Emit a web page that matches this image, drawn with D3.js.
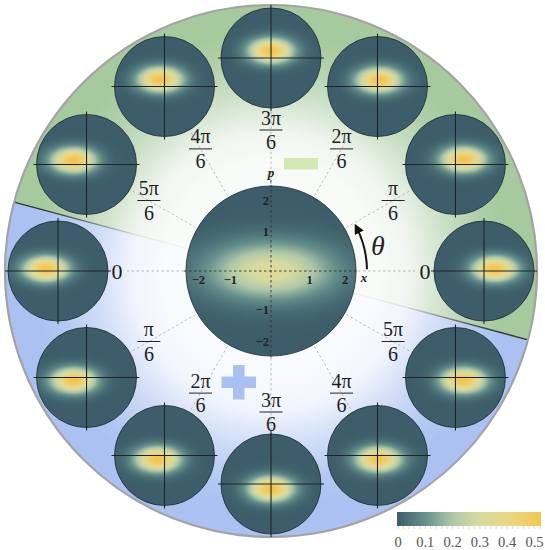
<!DOCTYPE html>
<html>
<head>
<meta charset="utf-8">
<script src="https://cdn.jsdelivr.net/npm/d3@7"></script>
<style>
  html, body { margin: 0; padding: 0; background: #fff; }
  svg { display: block; }
</style>
</head>
<body>
<svg id="chart" width="545" height="550"></svg>
<script>
// Rotation angle of each outer Wigner panel (degrees, counter-clockwise from +x)
const panelAngles = [0, 30, 60, 90, 120, 150, 180, 210, 240, 270, 300, 330];
// Phase labels next to each panel (numerator / denominator)
const labelNumerators = ["0", "π", "2π", "3π", "4π", "5π", "0", "π", "2π", "3π", "4π", "5π"];
const labelDenominators = ["", "6", "6", "6", "6", "6", "", "6", "6", "6", "6", "6"];
// Conditional state of each outer panel: centre (x, p), widths and peak value
const blobX = [0.48, 0.35, 0.06, 0.0, -0.18, -0.57, -0.53, -0.57, -0.30, 0.0, 0.04, 0.35];
const blobP = [0.09, 0.22, 0.28, 0.31, 0.31, 0.18, 0.09, -0.13, -0.17, -0.22, -0.17, -0.13];
const blobSigmaX = [0.66, 0.66, 0.66, 0.66, 0.66, 0.66, 0.66, 0.66, 0.66, 0.66, 0.66, 0.66];
const blobSigmaP = [0.37, 0.37, 0.37, 0.37, 0.37, 0.37, 0.37, 0.37, 0.37, 0.37, 0.37, 0.37];
const blobPeak = [0.54, 0.54, 0.54, 0.54, 0.54, 0.54, 0.54, 0.54, 0.54, 0.54, 0.54, 0.54];
// Unconditioned (central) state
const centerState = { x: 0, p: 0, sigmaX: 1.1, sigmaP: 0.5, peak: 0.33 };
// Axis ticks of the central panel
const axisTicks = [-2, -1, 1, 2];
// Colour map
const colorStops = [0, 0.1, 0.2, 0.3, 0.4, 0.5, 0.53];
const colorValues = ["#3c5d69", "#648e8c", "#adc7a7", "#d8daa0", "#e9d787", "#f2cb5c", "#f4c54c"];
const colorbarTicks = [0, 0.1, 0.2, 0.3, 0.4, 0.5];

const SERIF = "'Liberation Serif', 'Times New Roman', serif";
const CX = 271, CY = 271;
const OUTER_R = 266, RING_R = 213, DISK_R = 50, CENTER_R = 85;
const LABEL_R = 141, ZERO_R = 154;
const PHASE_MAX = 2.2;

const color = d3.scaleLinear().domain(colorStops).range(colorValues).clamp(true);
const svg = d3.select("#chart").attr("font-family", SERIF);
const defs = svg.append("defs");
const rad = d => d * Math.PI / 180;
const polar = (r, deg) => [CX + r * Math.cos(rad(deg)), CY - r * Math.sin(rad(deg))];

// ---------- background: two half-planes split along -15° / 165° ----------
const arc = d3.arc().innerRadius(0).outerRadius(OUTER_R);
const split = 165; // math angle of the divider
const toD3 = deg => rad(90 - deg);
const bg = svg.append("g").attr("transform", `translate(${CX},${CY})`);
bg.append("path")
  .attr("d", arc({ startAngle: toD3(split), endAngle: toD3(split - 180) }))
  .attr("fill", "#a6c99e");
bg.append("path")
  .attr("d", arc({ startAngle: toD3(split - 180), endAngle: toD3(split - 180) + Math.PI }))
  .attr("fill", "#aac1f1");
const [lx1, ly1] = polar(OUTER_R, split);
const [lx2, ly2] = polar(OUTER_R, split - 180);
svg.append("line").attr("x1", lx1).attr("y1", ly1).attr("x2", lx2).attr("y2", ly2)
  .attr("stroke", "#2e3436").attr("stroke-width", 1.4);

// white glow fading outwards
const glow = defs.append("radialGradient").attr("id", "glow")
  .attr("gradientUnits", "userSpaceOnUse")
  .attr("cx", CX).attr("cy", CY).attr("r", OUTER_R);
[[0, 0.93], [0.40, 0.93], [0.52, 0.84], [0.66, 0.45], [0.80, 0.12], [0.9, 0]].forEach(([o, a]) =>
  glow.append("stop").attr("offset", o).attr("stop-color", "#fff").attr("stop-opacity", a));
svg.append("circle").attr("cx", CX).attr("cy", CY).attr("r", OUTER_R).attr("fill", "url(#glow)");
svg.append("circle").attr("cx", CX).attr("cy", CY).attr("r", OUTER_R)
  .attr("fill", "none").attr("stroke", "#a3a3a3").attr("stroke-width", 2.2);

// ---------- radial guide lines ----------
svg.append("g").selectAll("line").data(panelAngles).join("line")
  .attr("x1", d => polar(CENTER_R + 2, d)[0]).attr("y1", d => polar(CENTER_R + 2, d)[1])
  .attr("x2", (d, i) => polar(labelDenominators[i] ? RING_R - DISK_R : ZERO_R - 10, d)[0])
  .attr("y2", (d, i) => polar(labelDenominators[i] ? RING_R - DISK_R : ZERO_R - 10, d)[1])
  .attr("stroke", "#aaa").attr("stroke-width", 0.8).attr("stroke-dasharray", "2.5,2.5");

// ---------- phase labels ----------
const labels = svg.append("g").attr("fill", "#1e1e1e");
panelAngles.forEach((a, i) => {
  if (!labelDenominators[i]) {
    const [x, y] = polar(ZERO_R, a);
    labels.append("text").attr("x", x).attr("y", y + 7.5).attr("text-anchor", "middle")
      .attr("font-size", 22).text(labelNumerators[i]);
  } else {
    const [x, y] = polar(LABEL_R, a);
    labels.append("text").attr("x", x).attr("y", y - 5.5).attr("text-anchor", "middle")
      .attr("font-size", 20).text(labelNumerators[i]);
    labels.append("line").attr("x1", x - 11.5).attr("x2", x + 11.5).attr("y1", y).attr("y2", y)
      .attr("stroke", "#222").attr("stroke-width", 1);
    labels.append("text").attr("x", x).attr("y", y + 19).attr("text-anchor", "middle")
      .attr("font-size", 20).text(labelDenominators[i]);
  }
});

// ---------- sign markers ----------
svg.append("rect").attr("x", 284).attr("y", 158).attr("width", 34).attr("height", 11.5)
  .attr("fill", "#d3e8b3");
const plus = svg.append("g").attr("fill", "#a9c0f0");
plus.append("rect").attr("x", 221.5).attr("y", 376.5).attr("width", 34.5).attr("height", 11.5);
plus.append("rect").attr("x", 233).attr("y", 365).attr("width", 11.5).attr("height", 34.5);

// ---------- Wigner function rendering ----------
function gaussian(st) {
  return (x, p) => st.peak * Math.exp(-0.5 * ((x - st.x) / st.sigmaX) ** 2 - 0.5 * ((p - st.p) / st.sigmaP) ** 2);
}
function fieldImage(radius, W) {
  const size = Math.round(radius * 2);
  const xs = d3.scaleLinear().domain([-PHASE_MAX, PHASE_MAX]).range([0, size]);
  const ps = d3.scaleLinear().domain([PHASE_MAX, -PHASE_MAX]).range([0, size]);
  const canvas = document.createElement("canvas");
  canvas.width = canvas.height = size;
  const ctx = canvas.getContext("2d");
  const img = ctx.createImageData(size, size);
  for (let j = 0; j < size; j++) {
    const p = ps.invert(j + 0.5);
    for (let i = 0; i < size; i++) {
      const x = xs.invert(i + 0.5);
      const c = d3.rgb(color(W(x, p)));
      const k = 4 * (j * size + i);
      img.data[k] = c.r; img.data[k + 1] = c.g; img.data[k + 2] = c.b; img.data[k + 3] = 255;
    }
  }
  ctx.putImageData(img, 0, 0);
  return canvas.toDataURL();
}
function drawPanel(g, id, cx, cy, r, W) {
  defs.append("clipPath").attr("id", id).append("circle").attr("cx", cx).attr("cy", cy).attr("r", r);
  g.append("image").attr("href", fieldImage(r, W))
    .attr("x", cx - r).attr("y", cy - r).attr("width", 2 * r).attr("height", 2 * r)
    .attr("clip-path", `url(#${id})`).attr("preserveAspectRatio", "none");
  g.append("circle").attr("cx", cx).attr("cy", cy).attr("r", r)
    .attr("fill", "none").attr("stroke", "#24343a").attr("stroke-width", 0.9);
}

// outer panels
const panels = svg.append("g");
panelAngles.forEach((a, i) => {
  const [cx, cy] = polar(RING_R, a);
  const g = panels.append("g");
  drawPanel(g, "clip" + i, cx, cy, DISK_R, gaussian({
    x: blobX[i], p: blobP[i], sigmaX: blobSigmaX[i], sigmaP: blobSigmaP[i], peak: blobPeak[i]
  }));
  g.append("line").attr("x1", cx - DISK_R - 3).attr("x2", cx + DISK_R + 3).attr("y1", cy).attr("y2", cy)
    .attr("stroke", "#1b2529").attr("stroke-width", 1.1);
  g.append("line").attr("x1", cx).attr("x2", cx).attr("y1", cy - DISK_R - 3).attr("y2", cy + DISK_R + 3)
    .attr("stroke", "#1b2529").attr("stroke-width", 1.1);
});

// central panel with phase-space axes
const center = svg.append("g");
drawPanel(center, "clipCenter", CX, CY, CENTER_R, gaussian(centerState));
const unit = d3.scaleLinear().domain([-PHASE_MAX, PHASE_MAX]).range([-CENTER_R, CENTER_R]);
center.append("line").attr("x1", CX - CENTER_R - 2).attr("x2", CX + CENTER_R + 2).attr("y1", CY).attr("y2", CY)
  .attr("stroke", "#333").attr("stroke-width", 0.9).attr("stroke-dasharray", "2.5,2.5");
center.append("line").attr("x1", CX).attr("x2", CX).attr("y1", CY - CENTER_R - 6).attr("y2", CY + CENTER_R + 3)
  .attr("stroke", "#333").attr("stroke-width", 0.9).attr("stroke-dasharray", "2.5,2.5");
center.append("g").selectAll("text").data(axisTicks).join("text")
  .attr("x", d => CX + unit(d) - (d < 0 ? 2 : 0)).attr("y", CY + 13)
  .attr("text-anchor", d => Math.abs(d) === 2 ? (d < 0 ? "start" : "end") : "middle")
  .attr("font-size", 12.5).attr("font-weight", "bold").attr("fill", "#222")
  .text(d => d < 0 ? "−" + (-d) : d);
center.append("g").selectAll("text").data(axisTicks).join("text")
  .attr("x", CX - 2).attr("y", d => CY - unit(d) + (d === 2 ? 11 : d === -2 ? -2 : 4))
  .attr("text-anchor", "end")
  .attr("font-size", 12.5).attr("font-weight", "bold").attr("fill", "#222")
  .text(d => d < 0 ? "−" + (-d) : d);
center.append("text").attr("x", CX).attr("y", CY - CENTER_R - 9).attr("text-anchor", "middle")
  .attr("font-size", 13).attr("font-style", "italic").attr("font-weight", "bold").attr("fill", "#222").text("p");
center.append("text").attr("x", CX + CENTER_R + 8).attr("y", CY + 11).attr("text-anchor", "middle")
  .attr("font-size", 13).attr("font-style", "italic").attr("font-weight", "bold").attr("fill", "#222").text("x");

// rotation arrow θ (counter-clockwise, from the x axis upwards)
defs.append("marker").attr("id", "head").attr("viewBox", "0 0 10 10").attr("refX", 6).attr("refY", 5)
  .attr("markerWidth", 5).attr("markerHeight", 5).attr("orient", "auto")
  .append("path").attr("d", "M0,0 L10,5 L0,10 z").attr("fill", "#111");
const arcPath = d3.path();
arcPath.arc(CX, CY, 96, -rad(1), -rad(27), true);
svg.append("path").attr("d", arcPath.toString())
  .attr("fill", "none").attr("stroke", "#111").attr("stroke-width", 2).attr("marker-end", "url(#head)");
svg.append("text").attr("x", 378).attr("y", 255).attr("text-anchor", "middle")
  .attr("font-size", 28).attr("font-style", "italic").attr("fill", "#222").text("θ");

// ---------- colour bar ----------
const cbX = d3.scaleLinear().domain([0, 0.524]).range([398, 541]);
const cbGrad = defs.append("linearGradient").attr("id", "cbar");
d3.range(0, 1.0001, 0.05).forEach(t =>
  cbGrad.append("stop").attr("offset", t).attr("stop-color", color(t * 0.524)));
svg.append("rect").attr("x", cbX(0) - 1).attr("y", 512).attr("width", cbX(0.524) - cbX(0) + 1).attr("height", 14)
  .attr("fill", "url(#cbar)");
svg.append("g").selectAll("line").data(d3.range(0, 0.521, 0.02)).join("line")
  .attr("x1", d => cbX(d)).attr("x2", d => cbX(d)).attr("y1", 526).attr("y2", 529)
  .attr("stroke", "#ccc").attr("stroke-width", 0.7);
svg.append("g").selectAll("text").data(colorbarTicks).join("text")
  .attr("x", d => cbX(d)).attr("y", 547).attr("text-anchor", "middle")
  .attr("font-size", 14.5).attr("fill", "#555").text(d => d === 0 ? "0" : d3.format(".1f")(d));
</script>
</body>
</html>
